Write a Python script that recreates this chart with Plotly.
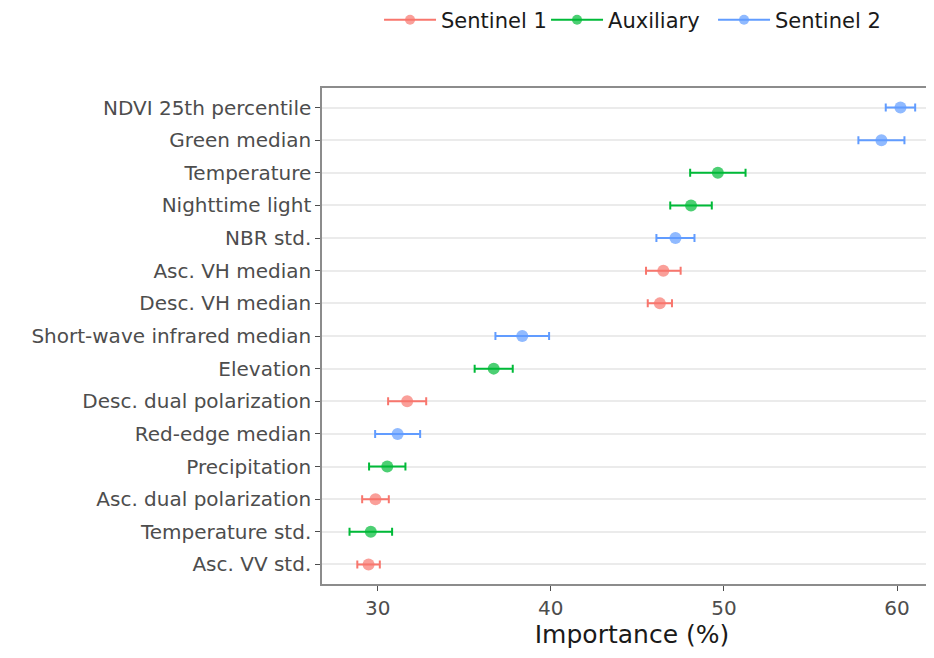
import plotly.graph_objects as go

# Feature importance (mean and spread)
features = ["NDVI 25th percentile", "Green median", "Temperature", "Nighttime light",
            "NBR std.", "Asc. VH median", "Desc. VH median", "Short-wave infrared median",
            "Elevation", "Desc. dual polarization", "Red-edge median", "Precipitation",
            "Asc. dual polarization", "Temperature std.", "Asc. VV std."]
importance = [60.2, 59.1, 49.65, 48.1, 47.2, 46.5, 46.3, 38.35,
              36.7, 31.7, 31.15, 30.55, 29.87, 29.6, 29.47]
error = [0.85, 1.33, 1.6, 1.2, 1.1, 1.0, 0.7, 1.55,
         1.1, 1.1, 1.3, 1.05, 0.77, 1.23, 0.65]
source = ["Sentinel 2", "Sentinel 2", "Auxiliary", "Auxiliary", "Sentinel 2",
          "Sentinel 1", "Sentinel 1", "Sentinel 2", "Auxiliary", "Sentinel 1",
          "Sentinel 2", "Auxiliary", "Sentinel 1", "Auxiliary", "Sentinel 1"]

groups = ["Sentinel 1", "Auxiliary", "Sentinel 2"]
colors = {"Sentinel 1": "#F8766D", "Auxiliary": "#00BA38", "Sentinel 2": "#619CFF"}

fig = go.Figure()
for g in groups:
    idx = [i for i, s in enumerate(source) if s == g]
    fig.add_trace(go.Scatter(
        x=[importance[i] for i in idx],
        y=[features[i] for i in idx],
        mode="markers",
        marker=dict(color=colors[g], size=12, opacity=0.7),
        error_x=dict(type="data", array=[error[i] for i in idx],
                     color=colors[g], thickness=2, width=4),
        name=g, legendgroup=g, showlegend=False,
    ))
    # legend entry (line + point key)
    fig.add_trace(go.Scatter(
        x=[None], y=[None], mode="lines+markers", name=g, legendgroup=g,
        line=dict(color=colors[g], width=2),
        marker=dict(color=colors[g], size=10, opacity=0.7),
    ))

# page body offsets the figure by ~7px; the panel runs off the right edge like the original
fig.update_layout(
    width=934, height=642,
    margin=dict(l=314, r=0, t=80, b=66, autoexpand=False),
    plot_bgcolor="white", paper_bgcolor="white",
    font=dict(family="DejaVu Sans, Liberation Sans, sans-serif", size=20, color="#4d4d4d"),
    legend=dict(orientation="h", x=0.092, xanchor="left", y=1.137, yanchor="middle",
                font=dict(size=21, color="#1a1a1a"), itemwidth=52,
                entrywidth=100, entrywidthmode="pixels"),
)

fig.update_xaxes(
    range=[26.78, 62.6], tickvals=[30, 40, 50, 60],
    showgrid=False, zeroline=False,
    showline=True, mirror=True, linecolor="#8c8c8c", linewidth=1.5,
    ticks="outside", ticklen=5, tickcolor="#4d4d4d",
    title=dict(text="Importance (%)", font=dict(size=25, color="#1a1a1a"), standoff=4),
)
fig.update_yaxes(
    type="category", categoryorder="array", categoryarray=features[::-1],
    range=[-0.6, 14.6],
    showgrid=True, gridcolor="#ebebeb", gridwidth=1.5,
    showline=True, mirror=False, linecolor="#8c8c8c", linewidth=1.5,
    ticks="outside", ticklen=5, tickcolor="#4d4d4d",
)

fig.write_html("out.html")
